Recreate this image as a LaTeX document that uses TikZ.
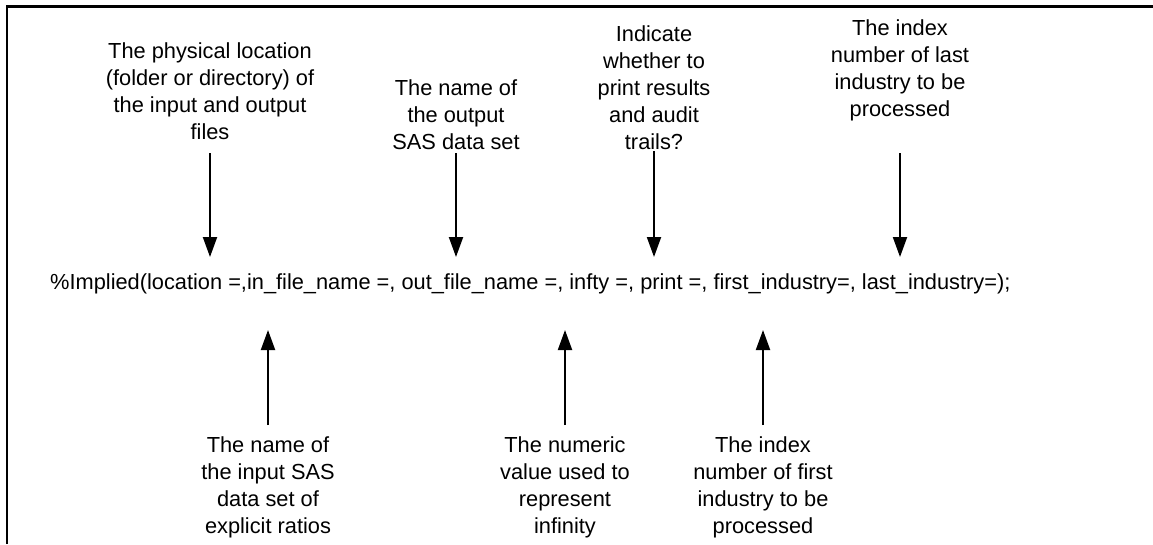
\documentclass[tikz,border=0pt]{standalone}
\usepackage{fontspec}
\setmainfont{Liberation Sans}
\usetikzlibrary{arrows.meta}
\begin{document}
\begin{tikzpicture}[x=1pt,y=-1pt,
  lbl/.style={align=center, inner sep=0pt, font=\fontsize{21.8}{27}\selectfont, anchor=north},
  codeline/.style={inner sep=0pt, font=\fontsize{21.8}{27}\selectfont, anchor=base west},
  arr/.style={line width=2pt, -{Triangle[length=20pt,width=14pt]}},
  frame/.style={line width=2.3pt}]
\useasboundingbox (0,0) rectangle (1153,544);
\fill[white] (0,0) rectangle (1153,544);
% frame (top and left only)
\draw[frame] (7,544) -- (7,6.5) -- (1153,6.5);

% code line
\node[codeline] (code) at (50,289) {\%Implied(location =,in\_file\_name =, out\_file\_name =, infty =, print =, first\_industry=, last\_industry=);};

% top labels
\node[lbl] (la) at (210,42) {The physical location\\(folder or directory) of\\the input and output\\files};
\node[lbl] (lb) at (456,79) {The name of\\the output\\SAS data set};
\node[lbl] (lc) at (654,25) {Indicate\\whether to\\print results\\and audit\\trails?};
\node[lbl] (ld) at (900,19) {The index\\number of last\\industry to be\\processed};

% bottom labels
\node[lbl] (le) at (268,436) {The name of\\the input SAS\\data set of\\explicit ratios};
\node[lbl] (lf) at (565,436) {The numeric\\value used to\\represent\\infinity};
\node[lbl] (lg) at (763,436) {The index\\number of first\\industry to be\\processed};

% arrow end points
\coordinate (sa) at (210,153); \coordinate (ea) at (210,257);
\coordinate (sb) at (456,153); \coordinate (eb) at (456,257);
\coordinate (sc) at (654,151); \coordinate (ec) at (654,257);
\coordinate (sd) at (900,153); \coordinate (ed) at (900,257);
\coordinate (se) at (268,425); \coordinate (ee) at (268,330);
\coordinate (sf) at (565,425); \coordinate (ef) at (565,330);
\coordinate (sg) at (763,425); \coordinate (eg) at (763,330);

\draw[arr] (sa) -- (ea);
\draw[arr] (sb) -- (eb);
\draw[arr] (sc) -- (ec);
\draw[arr] (sd) -- (ed);
\draw[arr] (se) -- (ee);
\draw[arr] (sf) -- (ef);
\draw[arr] (sg) -- (eg);
\end{tikzpicture}
\end{document}
